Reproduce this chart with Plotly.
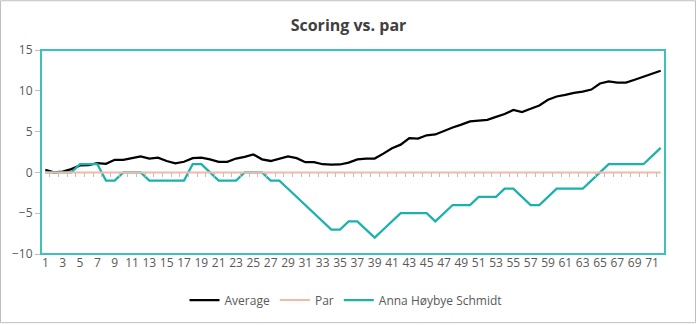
import plotly.graph_objects as go

holes = list(range(1, 73))
average = [0.3, 0.0, 0.1, 0.4, 0.85, 0.9, 1.15, 1.05, 1.55, 1.55, 1.75, 1.95, 1.7, 1.8, 1.4, 1.1, 1.3, 1.75, 1.8, 1.6,
           1.3, 1.3, 1.7, 1.9, 2.2, 1.6, 1.4, 1.65, 1.95, 1.75, 1.25, 1.25, 1.0, 0.95, 0.97, 1.2, 1.6, 1.7, 1.7, 2.3,
           2.95, 3.4, 4.2, 4.15, 4.55, 4.65, 5.1, 5.5, 5.85, 6.25, 6.35, 6.45, 6.8, 7.15, 7.65, 7.4, 7.8, 8.2, 8.9, 9.3,
           9.5, 9.75, 9.9, 10.15, 10.9, 11.15, 11.0, 11.0, 11.35, 11.7, 12.1, 12.45]
par = [0] * 72
anna = [0, 0, 0, 0, 1, 1, 1, -1, -1, 0, 0, 0, -1, -1, -1, -1, -1, 1, 1, 0,
        -1, -1, -1, 0, 0, 0, -1, -1, -2, -3, -4, -5, -6, -7, -7, -6, -6, -7, -8, -7,
        -6, -5, -5, -5, -5, -6, -5, -4, -4, -4, -3, -3, -3, -2, -2, -3, -4, -4, -3, -2,
        -2, -2, -2, -1, 0, 1, 1, 1, 1, 1, 2, 3]
x_tick_labels = [str(h) for h in holes if h % 2 == 1]
y_ticks = [-10, -5, 0, 5, 10, 15]

FONT = "Open Sans"
TEAL = "#1BB1AC"
BORDER = "#3DC1BD"
GRAY_TXT = "#595959"

fig = go.Figure()
fig.add_trace(go.Scatter(x=holes, y=average, mode="lines", name="Average",
                         line=dict(color="#000000", width=2.25)))
fig.add_trace(go.Scatter(x=holes, y=par, mode="lines", name="Par", xaxis="x2",
                         line=dict(color="#F5B8A8", width=2)))
fig.add_trace(go.Scatter(x=holes, y=anna, mode="lines", name="Anna Høybye Schmidt",
                         line=dict(color=TEAL, width=2.25)))

W, H = 697, 325
L, R, T, B = 41, 32, 50, 70
pw, ph = W - L - R, H - T - B

fig.update_layout(
    width=W, height=H,
    margin=dict(l=L, r=R, t=T, b=B),
    paper_bgcolor="white", plot_bgcolor="white",
    font=dict(family=FONT, size=12, color=GRAY_TXT),
    title=dict(text="<b>Scoring vs. par</b>", x=0.5, xref="container", xanchor="center",
               y=1 - 25 / H, yref="container", yanchor="middle",
               font=dict(family=FONT, size=16, color="#404040")),
    xaxis=dict(range=[0.5, 72.5], tickmode="array",
               tickvals=[int(t) for t in x_tick_labels], ticktext=x_tick_labels,
               showgrid=False, zeroline=False, showline=False, ticks="",
               tickfont=dict(size=12, color=GRAY_TXT)),
    xaxis2=dict(range=[0.5, 72.5], overlaying="x", anchor="free", position=0.4, side="bottom",
                tickmode="array", tickvals=[h + 0.5 for h in holes[:-1]],
                showticklabels=False, ticks="outside", ticklen=4, tickcolor="#BFBFBF", tickwidth=1,
                showgrid=False, zeroline=False, showline=False),
    yaxis=dict(range=[-10, 15], tickmode="array", tickvals=y_ticks,
               showgrid=False, zeroline=False, showline=False,
               ticks="outside", ticklen=5, tickcolor="#BFBFBF",
               tickfont=dict(size=12, color=GRAY_TXT)),
    showlegend=True,
    legend=dict(orientation="h", x=(346 - L) / pw, xanchor="center",
                y=(T + ph - 300) / ph, yanchor="middle",
                font=dict(size=12, color=GRAY_TXT), itemwidth=30, bgcolor="rgba(0,0,0,0)"),
    shapes=[
        dict(type="rect", xref="paper", yref="paper", x0=0, x1=1, y0=0, y1=1,
             line=dict(color=BORDER, width=2), layer="above"),
        dict(type="rect", xref="paper", yref="paper",
             x0=(0.5 - L) / pw, x1=(W - 1.5 - L) / pw,
             y0=(T + ph - (H - 1.0)) / ph, y1=(T + ph - 0.5) / ph,
             line=dict(color="#BFBFBF", width=1)),
    ],
)

fig.write_html("out.html")
